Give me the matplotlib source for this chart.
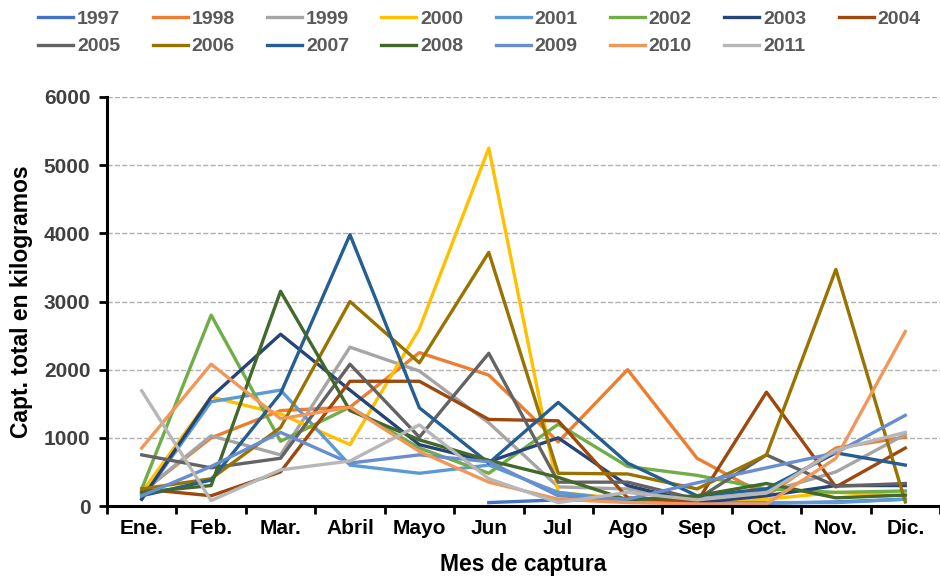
import numpy as np
import matplotlib.pyplot as plt
from matplotlib.ticker import FixedLocator

nan = np.nan

meses = ['Ene.', 'Feb.', 'Mar.', 'Abril', 'Mayo', 'Jun', 'Jul', 'Ago', 'Sep', 'Oct.', 'Nov.', 'Dic.']

y1997 = [nan, nan, nan, nan, nan, 50, 90, 80, 40, 40, 60, 100]
y1998 = [200, 1000, 1400, 1450, 2250, 1920, 940, 2000, 700, 150, 850, 1010]
y1999 = [200, 1030, 750, 2330, 1980, 1220, 280, 250, 100, 200, 500, 1050]
y2000 = [200, 1600, 1350, 900, 2600, 5250, 200, 100, 80, 100, 200, 150]
y2001 = [100, 1530, 1700, 600, 480, 600, 200, 80, 50, 50, 50, 100]
y2002 = [250, 2800, 950, 1450, 850, 480, 1200, 580, 450, 250, 200, 220]
y2003 = [100, 1600, 2520, 1700, 900, 650, 1000, 300, 50, 150, 300, 300]
y2004 = [250, 150, 500, 1830, 1830, 1270, 1250, 120, 60, 1670, 280, 850]
y2005 = [750, 560, 700, 2080, 1010, 2240, 350, 350, 100, 750, 290, 330]
y2006 = [250, 400, 1150, 3000, 2100, 3720, 480, 470, 250, 750, 3470, 60]
y2007 = [150, 380, 1650, 3980, 1440, 630, 1520, 630, 150, 250, 780, 600]
y2008 = [200, 300, 3150, 1400, 970, 670, 420, 90, 150, 330, 120, 160]
y2009 = [150, 580, 1080, 630, 750, 650, 150, 100, 340, 560, 780, 1330]
y2010 = [850, 2080, 1280, 1450, 800, 350, 100, 50, 30, 30, 700, 2560]
y2011 = [1690, 80, 530, 660, 1190, 400, 50, 200, 90, 190, 820, 1080]

anios = ['1997', '1998', '1999', '2000', '2001', '2002', '2003', '2004',
         '2005', '2006', '2007', '2008', '2009', '2010', '2011']
series = [y1997, y1998, y1999, y2000, y2001, y2002, y2003, y2004,
          y2005, y2006, y2007, y2008, y2009, y2010, y2011]
colores = ['#4472C4', '#ED7D31', '#A5A5A5', '#FFC000', '#5B9BD5', '#70AD47',
           '#264478', '#9E480E', '#636363', '#997300', '#255E91', '#43682B',
           '#698ED0', '#F1975A', '#B7B7B7']

plt.rcParams['font.family'] = ['Liberation Sans', 'DejaVu Sans']

fig = plt.figure(figsize=(9.4, 5.79), dpi=100)
ax = fig.add_axes([107/940, 1 - 506/579, 833/940, 409/579])

x = np.arange(len(meses))
lineas = []
for nombre, vals, c in zip(anios, series, colores):
    l, = ax.plot(x, vals, color=c, lw=2.4, label=nombre)
    lineas.append(l)

ax.set_xlim(-0.5, 11.5)
ax.set_ylim(0, 6000)
ax.set_yticks(range(0, 6001, 1000))
ax.set_xticks(x)
ax.set_xticklabels(meses, fontsize=15, fontweight='bold')
ax.xaxis.set_minor_locator(FixedLocator(np.arange(-0.5, 12, 1)))
ax.tick_params(axis='x', which='major', length=0, pad=9)
ax.tick_params(axis='x', which='minor', length=6, width=2, direction='out')
ax.tick_params(axis='y', length=6, width=2, labelsize=15, pad=6)
for lab in ax.get_yticklabels():
    lab.set_fontweight('bold')
    lab.set_color('#404040')

ax.grid(axis='y', ls='--', color='#b0b0b0', lw=1)
ax.set_axisbelow(True)
for s in ['top', 'right']:
    ax.spines[s].set_visible(False)
for s in ['left', 'bottom']:
    ax.spines[s].set_linewidth(2.2)
ax.spines['bottom'].set_zorder(5)

ax.set_ylabel('Capt. total en kilogramos', fontsize=16.5, fontweight='bold', labelpad=8)
ax.set_xlabel('Mes de captura', fontsize=16.5, fontweight='bold', labelpad=11)

# orden por filas en la leyenda
orden = [0, 8, 1, 9, 2, 10, 3, 11, 4, 12, 5, 13, 6, 14, 7]
leg = fig.legend([lineas[i] for i in orden], [anios[i] for i in orden],
                 loc='upper center', bbox_to_anchor=(0.51, 1.012), ncol=8,
                 frameon=False, handlelength=1.8, handletextpad=0.2,
                 columnspacing=1.66, labelspacing=0.5,
                 prop={'family': ['Liberation Sans Narrow', 'Liberation Sans'],
                       'weight': 'bold', 'size': 14})
for t in leg.get_texts():
    t.set_color('#595959')

fig.savefig('out.png', dpi=100)
